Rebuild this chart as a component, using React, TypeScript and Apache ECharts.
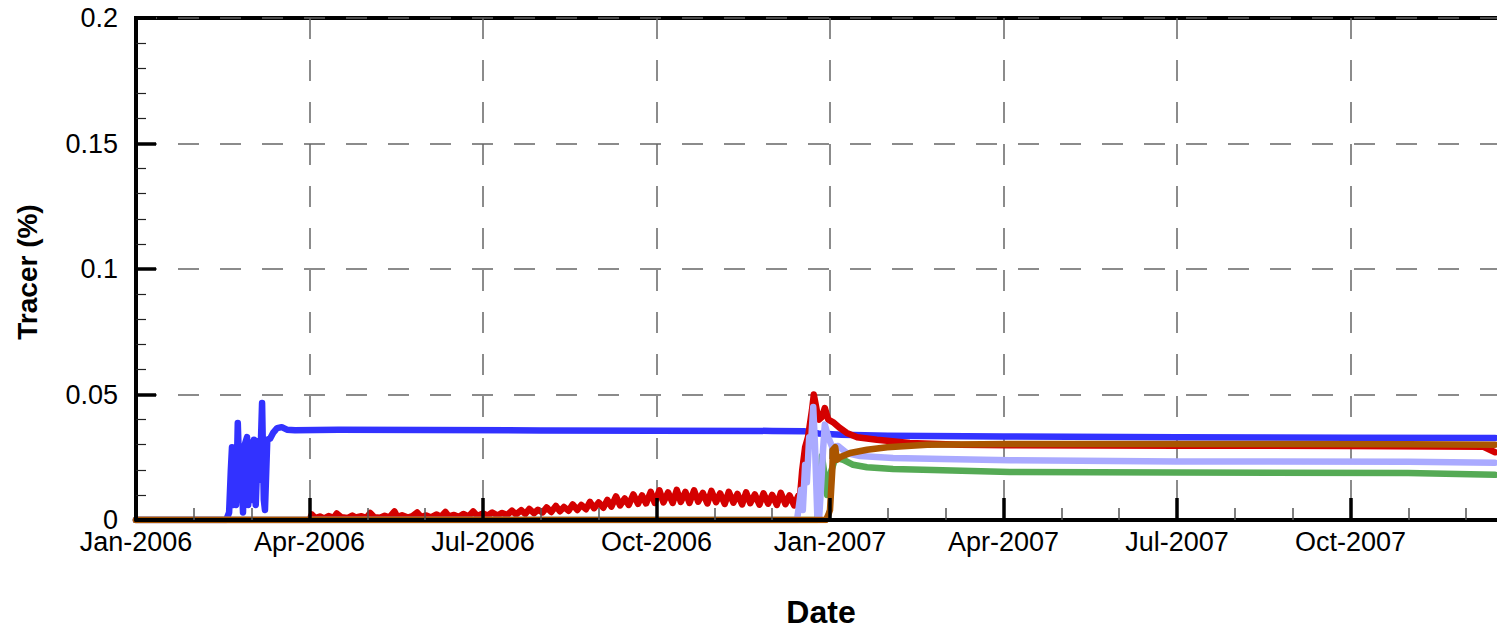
import React, { useEffect, useRef } from "react";
import * as echarts from "echarts";

// x values are months since Jan-2006 (quarters are evenly spaced on the axis)
const xTickLabels = [
  "Jan-2006", "Apr-2006", "Jul-2006", "Oct-2006",
  "Jan-2007", "Apr-2007", "Jul-2007", "Oct-2007", "Jan-2008",
];

const blueData: [number, number][] = [
  [0, 0], [1.56, 0], [1.61, 0.003], [1.64, 0.02], [1.66, 0.029], [1.68, 0.006],
  [1.71, 0.028], [1.73, 0.006], [1.76, 0.0386], [1.8, 0.008], [1.83, 0.02],
  [1.85, 0.003], [1.88, 0.03], [1.92, 0.033], [1.94, 0.006], [1.97, 0.031],
  [2.01, 0.008], [2.04, 0.032], [2.07, 0.006], [2.11, 0.0315], [2.14, 0.016],
  [2.18, 0.0466], [2.21, 0.008], [2.23, 0.004], [2.27, 0.032], [2.32, 0.0325],
  [2.37, 0.0347], [2.44, 0.0366], [2.52, 0.037], [2.61, 0.036], [2.75, 0.0358],
  [3.5, 0.036], [5, 0.0359], [7, 0.0357], [9, 0.0356], [11, 0.0355],
  [11.55, 0.0354], [11.8, 0.0345], [12.2, 0.034], [13, 0.0336], [15, 0.0333],
  [18, 0.033], [21, 0.0328], [23.5, 0.0327],
];

const redData: [number, number][] = [
  [0, 0], [3.0, 0], [3.04, 0.0022], [3.1, 0.0008], [3.18, 0.0014], [3.25, 0.0006],
  [3.33, 0.0016], [3.42, 0.0009], [3.47, 0.0026], [3.55, 0.0011], [3.66, 0.0008],
  [3.74, 0.0018], [3.8, 0.001], [3.9, 0.0015], [3.98, 0.0008], [4.05, 0.0028],
  [4.12, 0.0011], [4.22, 0.0009], [4.3, 0.0017], [4.38, 0.001], [4.47, 0.0034],
  [4.52, 0.0012], [4.6, 0.0019], [4.7, 0.001], [4.78, 0.0016], [4.86, 0.003],
  [4.93, 0.0012], [5.02, 0.0018], [5.1, 0.001], [5.2, 0.0022], [5.27, 0.0012],
  [5.35, 0.0032], [5.41, 0.0014], [5.5, 0.002], [5.58, 0.0012], [5.66, 0.0024],
  [5.75, 0.0014], [5.83, 0.0034], [5.9, 0.0016], [6.0, 0.0026], [6.08, 0.0017],
  [6.16, 0.003], [6.25, 0.0018], [6.33, 0.0028], [6.42, 0.002], [6.5, 0.0037],
  [6.57, 0.0022], [6.66, 0.0039], [6.73, 0.0024], [6.8, 0.0044], [6.88, 0.0027],
  [6.95, 0.0041], [7.03, 0.003], [7.1, 0.005], [7.18, 0.0032], [7.26, 0.0056],
  [7.33, 0.0035], [7.4, 0.0052], [7.48, 0.0037], [7.55, 0.0062], [7.63, 0.004],
  [7.7, 0.006], [7.78, 0.0043], [7.85, 0.0072], [7.92, 0.0047], [8.0, 0.007],
  [8.08, 0.0049], [8.15, 0.008], [8.22, 0.0053], [8.3, 0.0094], [8.37, 0.0058],
  [8.45, 0.0086], [8.52, 0.006], [8.6, 0.0102], [8.68, 0.0064], [8.75, 0.0098],
  [8.82, 0.0066], [8.9, 0.0112], [8.97, 0.0068], [9.05, 0.0118], [9.12, 0.007],
  [9.2, 0.011], [9.28, 0.0068], [9.35, 0.012], [9.42, 0.0072], [9.5, 0.0112],
  [9.57, 0.0068], [9.65, 0.0118], [9.72, 0.0073], [9.8, 0.0108], [9.88, 0.0066],
  [9.95, 0.0116], [10.03, 0.0071], [10.1, 0.0106], [10.18, 0.0064], [10.25, 0.0112],
  [10.33, 0.0069], [10.4, 0.0104], [10.48, 0.0062], [10.55, 0.011], [10.62, 0.0067],
  [10.7, 0.0102], [10.78, 0.0061], [10.85, 0.0106], [10.93, 0.0065], [11.0, 0.01],
  [11.08, 0.006], [11.15, 0.0108], [11.23, 0.0063], [11.3, 0.0098], [11.38, 0.0058],
  [11.45, 0.0096], [11.48, 0.009],
  [11.52, 0.02], [11.57, 0.029], [11.62, 0.033], [11.69, 0.044],
  [11.72, 0.05], [11.78, 0.0426], [11.81, 0.04], [11.86, 0.041], [11.91, 0.0446],
  [11.97, 0.04], [12.05, 0.039], [12.17, 0.0367], [12.29, 0.0347], [12.47, 0.033],
  [12.81, 0.032], [13.38, 0.0307], [14.25, 0.03], [15.11, 0.0298], [18, 0.0296],
  [21, 0.0295], [23.3, 0.0292], [23.5, 0.027],
];

const greenData: [number, number][] = [
  [0, 0], [11.78, 0], [11.83, 0.012], [11.86, 0.0255], [11.9, 0.019],
  [11.95, 0.01], [12.0, 0.018], [12.07, 0.023], [12.12, 0.0247], [12.23, 0.024],
  [12.4, 0.022], [12.64, 0.021], [13.09, 0.0203], [13.78, 0.0199], [15.11, 0.0191],
  [18, 0.0189], [22, 0.0187], [23.5, 0.018],
];

const purpleData: [number, number][] = [
  [0, 0], [11.43, 0], [11.5, 0.012], [11.53, 0.004], [11.57, 0.022], [11.6, 0.015],
  [11.64, 0.033], [11.67, 0.03], [11.71, 0.045], [11.74, 0.03], [11.78, 0.002],
  [11.81, 0], [11.85, 0.015], [11.88, 0.028], [11.91, 0.038], [11.97, 0.033],
  [12.04, 0.029], [12.14, 0.0295], [12.29, 0.0267], [12.52, 0.0255], [13.09, 0.0247],
  [13.95, 0.0243], [15.11, 0.0238], [18, 0.0233], [22, 0.0232], [23.5, 0.0228],
];

const orangeData: [number, number][] = [
  [0, 0], [11.93, 0], [11.97, 0.002], [12.0, 0.004], [12.04, 0.02], [12.05, 0.028],
  [12.09, 0.029], [12.12, 0.024], [12.17, 0.025], [12.35, 0.0267], [12.64, 0.028],
  [12.99, 0.029], [13.68, 0.03], [15.11, 0.0303], [18, 0.0303], [22, 0.0302],
  [23.5, 0.030],
];

const seriesDefs = [
  { name: "blue", color: "#3232ff", data: blueData },
  { name: "red", color: "#d40000", data: redData },
  { name: "green", color: "#55aa55", data: greenData },
  { name: "purple", color: "#aaaaff", data: purpleData },
  { name: "orange", color: "#aa5500", data: orangeData },
];

const FONT = '"Liberation Sans", Arial, sans-serif';

export default function App() {
  const ref = useRef<HTMLDivElement>(null);
  useEffect(() => {
    if (!ref.current) return;
    const chart = echarts.init(ref.current, null, { renderer: "svg" });
    const gridLine = { type: [21, 21] as any, color: "#666", width: 1.5 };
    chart.setOption({
      animation: false,
      grid: {
        left: 136, top: 18, width: 1388, height: 502,
        show: true, borderColor: "#000", borderWidth: 4, backgroundColor: "transparent",
      },
      xAxis: [
        {
          type: "value", position: "bottom", min: 0, max: 24, interval: 3, z: 0,
          axisLine: { show: false }, axisTick: { show: false }, axisLabel: { show: false },
          splitLine: { show: true, lineStyle: gridLine },
        },
        {
          type: "value", position: "bottom", min: 0, max: 24, interval: 3, z: 10,
          axisLine: { show: true, lineStyle: { color: "#000", width: 4 } },
          axisTick: { show: true, inside: true, length: 22, lineStyle: { color: "#000", width: 3.5 } },
          minorTick: { show: true, splitNumber: 3, length: 12, lineStyle: { color: "#555", width: 1.5 } },
          splitLine: { show: false },
          axisLabel: {
            show: true, margin: 8, showMaxLabel: false, color: "#000",
            fontFamily: FONT, fontSize: 27,
            formatter: (v: number) => xTickLabels[Math.round(v / 3)] ?? "",
          },
        },
      ],
      yAxis: [
        {
          type: "value", position: "left", min: 0, max: 0.2, interval: 0.05, z: 0,
          axisLine: { show: false }, axisTick: { show: false }, axisLabel: { show: false },
          splitLine: { show: true, lineStyle: gridLine },
        },
        {
          type: "value", position: "left", min: 0, max: 0.2, interval: 0.05, z: 10,
          axisLine: { show: true, lineStyle: { color: "#000", width: 4 } },
          axisTick: { show: true, inside: true, length: 20, lineStyle: { color: "#000", width: 3.5 } },
          minorTick: { show: true, splitNumber: 5, length: 10, lineStyle: { color: "#222", width: 1.2 } },
          splitLine: { show: false },
          axisLabel: { show: true, margin: 18, color: "#000", fontFamily: FONT, fontSize: 27 },
        },
      ],
      series: seriesDefs.map((s) => ({
        name: s.name,
        type: "line",
        xAxisIndex: 0,
        yAxisIndex: 0,
        data: s.data,
        showSymbol: false,
        symbol: "none",
        lineStyle: { color: s.color, width: 6.5, join: "round", cap: "round" },
        itemStyle: { color: s.color },
      })),
      graphic: [
        {
          type: "text", x: 27, y: 272, rotation: Math.PI / 2,
          style: {
            text: "Tracer (%)", font: `bold 28px ${FONT}`, fill: "#000",
            textAlign: "center", textVerticalAlign: "middle",
          },
        },
        {
          type: "text", x: 821, y: 612,
          style: {
            text: "Date", font: `bold 32px ${FONT}`, fill: "#000",
            textAlign: "center", textVerticalAlign: "middle",
          },
        },
      ],
    });
    return () => chart.dispose();
  }, []);
  return (
    <div
      style={{
        position: "absolute", left: 0, top: 0, width: 1497, height: 630,
        overflow: "hidden", background: "#fff",
      }}
    >
      <div ref={ref} style={{ width: 1540, height: 630 }} />
    </div>
  );
}
